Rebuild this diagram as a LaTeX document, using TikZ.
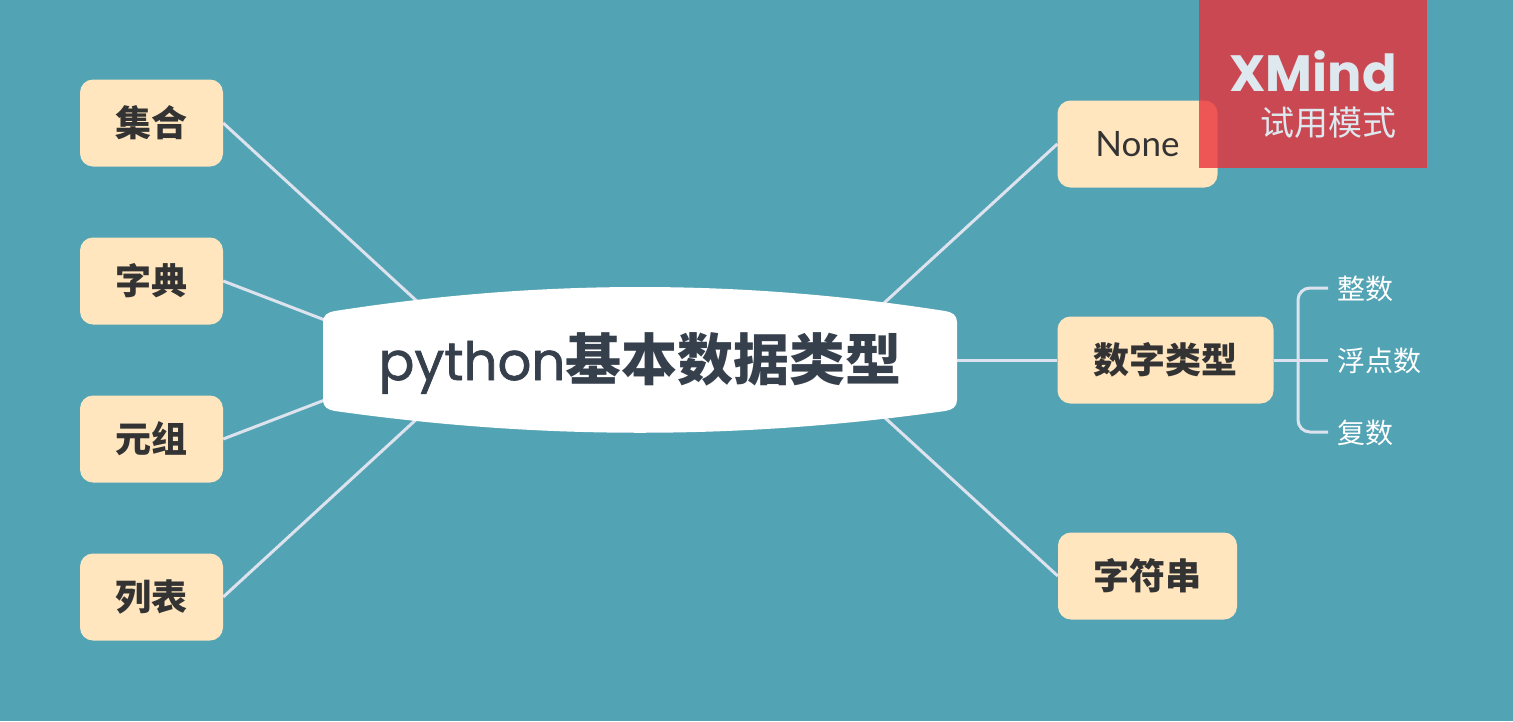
\documentclass[tikz,border=0pt]{standalone}
\usepackage{fontspec}
\newfontfamily\cjk{Noto Sans CJK SC}
\newfontfamily\latin{Lato}
\newfontfamily\poppins{Poppins}
\newfontfamily\poppinsmed[FakeBold=1.2]{Poppins}
\definecolor{bg}{HTML}{52A3B4}
\definecolor{boxfill}{HTML}{FFE6BF}
\definecolor{boxtext}{HTML}{333333}
\definecolor{centertext}{HTML}{363F4C}
\definecolor{linecol}{HTML}{DCE3EE}
\definecolor{wmred}{HTML}{E9323A}
\definecolor{wmtext}{HTML}{DDE9EF}
\tikzset{
  topicbox/.style={fill=boxfill, rounded corners=13pt, inner sep=0pt, text=boxtext, font=\cjk\bfseries\fontsize{36}{40}\selectfont},
  conn/.style={draw=linecol, line width=3pt},
  sublabel/.style={anchor=west, inner sep=0pt, text=white, font=\cjk\fontsize{28}{32}\selectfont},
}
\begin{document}
\begin{tikzpicture}[x=1pt,y=-1pt]
\fill[bg] (0,0) rectangle (1513,721);
\useasboundingbox (0,0) rectangle (1513,721);
% topic boxes
\node[topicbox, minimum width=143pt, minimum height=87pt] (jihe) at (151.5,123) {集合};
\node[topicbox, minimum width=143pt, minimum height=87pt] (zidian) at (151.5,281) {字典};
\node[topicbox, minimum width=143pt, minimum height=87pt] (yuanzu) at (151.5,439) {元组};
\node[topicbox, minimum width=143pt, minimum height=87pt] (liebiao) at (151.5,597) {列表};
\node[topicbox, minimum width=160pt, minimum height=87pt, font=\latin\fontsize{35}{40}\selectfont] (none) at (1137.5,144) {None};
\node[topicbox, minimum width=216pt, minimum height=87pt] (numtype) at (1165.5,360) {数字类型};
\node[topicbox, minimum width=179pt, minimum height=87pt] (str) at (1147.5,576) {字符串};
% hidden end points behind the central topic
\coordinate (c1) at (420,304);
\coordinate (c2) at (330,322);
\coordinate (c3) at (330,398);
\coordinate (c4) at (420,416);
\coordinate (c5) at (883,304);
\coordinate (c6) at (950,360);
\coordinate (c7) at (883,416);
\draw[conn] (jihe.east) -- (c1);
\draw[conn] (zidian.east) -- (c2);
\draw[conn] (yuanzu.east) -- (c3);
\draw[conn] (liebiao.east) -- (c4);
\draw[conn] (none.west) -- (c5);
\draw[conn] (numtype.west) -- (c6);
\draw[conn] (str.west) -- (c7);
% central topic shape
\fill[white] (335,411) .. controls (540,440) and (740,440) .. (945,411)
  .. controls (952,410) and (957,407) .. (957,400) -- (957,322)
  .. controls (957,315) and (952,312) .. (945,311)
  .. controls (740,279) and (540,279) .. (335,311)
  .. controls (328,312) and (323,315) .. (323,322) -- (323,400)
  .. controls (323,407) and (328,410) .. (335,411) -- cycle;
\node[inner sep=0pt, text=centertext] (center) at (640,363)
  {{\poppinsmed\fontsize{53}{58}\selectfont python}{\cjk\bfseries\fontsize{56}{60}\selectfont 基本数据类型}};
% sub-topics of 数字类型
\coordinate (bj) at (1298,360);
\coordinate (bt) at (1328,288);
\coordinate (bm) at (1328,360);
\coordinate (bb) at (1328,432);
\draw[conn] (numtype.east) -- (bj) -- (bm);
\draw[conn, rounded corners=12pt] (bt) -- (1298,288) -- (1298,432) -- (bb);
\node[sublabel] (zhengshu) at (1337,289) {整数};
\node[sublabel] (fudian) at (1337,361) {浮点数};
\node[sublabel] (fushu) at (1337,433) {复数};
% watermark
\fill[wmred, opacity=0.8] (1199,0) rectangle (1427,168);
\node[anchor=east, inner sep=0pt, text=wmtext, font=\poppins\bfseries\fontsize{51}{56}\selectfont] (xmind) at (1397,71) {XMind};
\node[anchor=east, inner sep=0pt, text=wmtext, font=\cjk\fontsize{34}{38}\selectfont] (trial) at (1397,123) {试用模式};
\end{tikzpicture}
\end{document}
